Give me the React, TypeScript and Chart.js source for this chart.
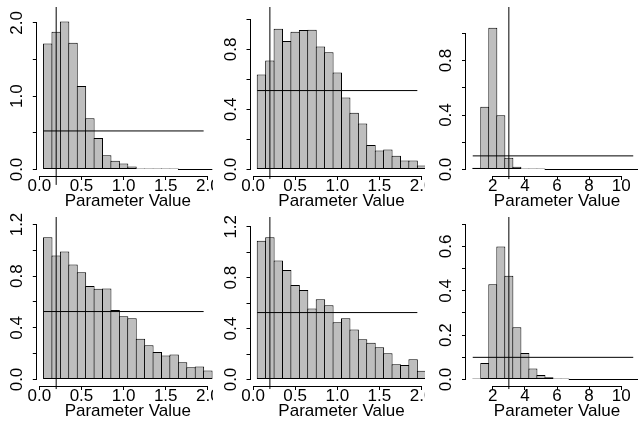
import React, { useEffect, useRef } from "react";
import { Chart, registerables } from "chart.js";

Chart.register(...registerables);
Chart.defaults.font.family = "'Liberation Sans', Arial, Helvetica, sans-serif";
Chart.defaults.color = "#000";

// ---------------- data ----------------
const narrowBinCenters = [0.1, 0.2, 0.3, 0.4, 0.5, 0.6, 0.7, 0.8, 0.9, 1.0, 1.1, 1.2, 1.3, 1.4, 1.5, 1.6, 1.7, 1.8, 1.9, 2.0];
const wideBinCenters = [1.0, 1.5, 2.0, 2.5, 3.0, 3.5, 4.0, 4.5, 5.0, 5.5, 6.0, 6.5, 7.0, 7.5, 8.0, 8.5, 9.0, 9.5, 10.0, 10.5, 11.0];

const densityTopLeft = [1.72, 1.88, 2.02, 1.73, 1.14, 0.70, 0.43, 0.195, 0.118, 0.082, 0.041, 0.014, 0.01, 0.006, 0.003, 0.001, 0, 0, 0, 0];
const densityTopMid = [0.633, 0.727, 0.938, 0.856, 0.918, 0.929, 0.931, 0.82, 0.782, 0.647, 0.48, 0.378, 0.307, 0.164, 0.127, 0.133, 0.091, 0.06, 0.06, 0.027];
const densityTopRight = [0.012, 0.46, 1.04, 0.399, 0.086, 0.02, 0.007, 0.002, 0.001, 0, 0, 0, 0, 0, 0, 0, 0, 0, 0, 0, 0];
const densityBottomLeft = [1.102, 0.96, 0.991, 0.89, 0.831, 0.723, 0.702, 0.705, 0.539, 0.49, 0.475, 0.315, 0.266, 0.212, 0.186, 0.194, 0.134, 0.095, 0.10, 0.07];
const densityBottomMid = [1.09, 1.118, 0.935, 0.861, 0.743, 0.704, 0.558, 0.631, 0.584, 0.45, 0.482, 0.393, 0.317, 0.288, 0.254, 0.207, 0.12, 0.113, 0.16, 0.068];
const densityBottomRight = [0.002, 0.074, 0.43, 0.60, 0.468, 0.236, 0.119, 0.05, 0.02, 0.01, 0.003, 0.001, 0, 0, 0, 0, 0, 0, 0, 0, 0];

const narrowXLim = [0.05, 2.05];
const wideXLim = [0.75, 11.25];
const narrowXTicks = [0, 0.5, 1, 1.5, 2];
const wideXTicks = [2, 4, 6, 8, 10];

const yTicksTopLeft = [0, 0.5, 1, 1.5, 2];
const yLabelsTopLeft = [0, 1, 2];
const yTicksTop = [0, 0.2, 0.4, 0.6, 0.8, 1.0];
const yLabelsTop = [0, 0.4, 0.8];
const yTicksBottom = [0, 0.2, 0.4, 0.6, 0.8, 1.0, 1.2];
const yLabelsBottom = [0, 0.4, 0.8, 1.2];
const yTicksBottomRight = [0, 0.1, 0.2, 0.3, 0.4, 0.5, 0.6, 0.7];
const yLabelsBottomRight = [0, 0.2, 0.4, 0.6];

const yLimTops = [2.217, 1.083, 1.193, 1.258, 1.277, 0.733];
const trueValues = [0.2, 0.2, 3, 0.2, 0.2, 3];
const trueLineLows = [-0.21, -0.063, -0.07, -0.074, -0.075, -0.043];
const priorLows = [0.05, 0.05, 0.75, 0.05, 0.05, 0.75];
const priorHighs = [1.95, 1.95, 10.75, 1.95, 1.95, 10.75];
const priorDensities = [0.526, 0.526, 0.1, 0.526, 0.526, 0.1];

const panelDensities = [densityTopLeft, densityTopMid, densityTopRight, densityBottomLeft, densityBottomMid, densityBottomRight];
const panelYTicks = [yTicksTopLeft, yTicksTop, yTicksTop, yTicksBottom, yTicksBottom, yTicksBottomRight];
const panelYLabels = [yLabelsTopLeft, yLabelsTop, yLabelsTop, yLabelsBottom, yLabelsBottom, yLabelsBottomRight];

// ---------------- layout ----------------
const COLS = [
  { left: 0, width: 213, plotLeft: 36.8 },
  { left: 213, width: 212, plotLeft: 37.5 },
  { left: 425, width: 213, plotLeft: 41 },
];
const ROWS = [
  { top: 0, height: 210 },
  { top: 210, height: 211 },
];
const CANVAS_W = 228;
const PLOT_W = 182;
const PLOT_TOP = 0.5;
const PLOT_BOTTOM = 176;
const X_AXIS_H = 34;
const Y_AXIS_W = 30;
const FONT = { size: 17, lineHeight: 1 };

const rAxesPlugin = {
  id: "rAxes",
  afterDraw(chart: any) {
    const { ctx, chartArea } = chart;
    const xs = chart.scales.x;
    const ys = chart.scales.y;
    const xt = xs.ticks;
    const yt = ys.ticks;
    ctx.save();
    ctx.strokeStyle = "#000";
    ctx.lineWidth = 1;
    const al = (p: number) => Math.round(p - 0.5) + 0.5;
    const yb = Math.round(chartArea.bottom) + 0.5;
    const xa = al(xs.getPixelForValue(xt[0].value));
    const xb = al(xs.getPixelForValue(xt[xt.length - 1].value));
    ctx.beginPath();
    ctx.moveTo(xa - 0.5, yb);
    ctx.lineTo(xb + 0.5, yb);
    ctx.stroke();
    const xl = Math.round(chartArea.left) - 0.5;
    const ya = al(ys.getPixelForValue(yt[0].value));
    const yc = al(ys.getPixelForValue(yt[yt.length - 1].value));
    ctx.beginPath();
    ctx.moveTo(xl, ya + 0.5);
    ctx.lineTo(xl, yc - 0.5);
    ctx.stroke();
    ctx.restore();
  },
};

const zeroPadding = (s: any) => {
  s.paddingLeft = 0;
  s.paddingRight = 0;
  s.paddingTop = 0;
  s.paddingBottom = 0;
};

function buildConfig(i: number): any {
  const row = Math.floor(i / 3);
  const col = i % 3;
  const c = COLS[col];
  const r = ROWS[row];
  const wide = col === 2;
  const centers = wide ? wideBinCenters : narrowBinCenters;
  const xlim = wide ? wideXLim : narrowXLim;
  const xTicks = wide ? wideXTicks : narrowXTicks;
  const xr = xlim[1] - xlim[0];
  const xMin = xlim[0] - 0.04 * xr;
  const xMax = xlim[1] + 0.04 * xr;
  const binPx = ((centers[1] - centers[0]) * PLOT_W) / (xMax - xMin);
  const Y = yLimTops[i];
  const dens = panelDensities[i];
  const yTicks = panelYTicks[i];
  const yLabels = panelYLabels[i];

  return {
    type: "bar",
    data: {
      datasets: [
        {
          type: "line",
          data: [
            { x: trueValues[i], y: trueLineLows[i] },
            { x: trueValues[i], y: Y },
          ],
          borderColor: "#000",
          borderWidth: 1,
          pointRadius: 0,
          clip: false,
          order: 0,
        },
        {
          type: "line",
          data: [
            { x: priorLows[i], y: priorDensities[i] },
            { x: priorHighs[i], y: priorDensities[i] },
          ],
          borderColor: "#000",
          borderWidth: 1,
          pointRadius: 0,
          order: 1,
        },
        {
          type: "bar",
          data: centers.map((x, k) => ({ x, y: dens[k] })),
          backgroundColor: "#bebebe",
          borderColor: "#000",
          borderWidth: 1,
          borderSkipped: false,
          barPercentage: 1 + 1 / binPx,
          categoryPercentage: 1,
          minBarLength: 1,
          order: 2,
        },
      ],
    },
    options: {
      animation: false,
      responsive: false,
      devicePixelRatio: 1,
      events: [],
      layout: {
        autoPadding: false,
        padding: {
          left: c.plotLeft - Y_AXIS_W,
          right: CANVAS_W - (c.plotLeft + PLOT_W),
          top: PLOT_TOP,
          bottom: r.height - PLOT_BOTTOM - X_AXIS_H,
        },
      },
      plugins: { legend: { display: false }, tooltip: { enabled: false }, title: { display: false } },
      scales: {
        x: {
          type: "linear",
          position: "bottom",
          min: xMin,
          max: xMax,
          offset: false,
          bounds: "data",
          grid: { offset: false, drawOnChartArea: false, drawTicks: true, tickLength: 4, color: "#000", lineWidth: 1 },
          border: { display: false },
          ticks: {
            autoSkip: false,
            maxRotation: 0,
            minRotation: 0,
            padding: -2.5,
            color: "#000",
            font: FONT,
            callback: (v: any) => (wide ? String(v) : Number(v).toFixed(1)),
          },
          afterBuildTicks: (s: any) => {
            s.ticks = xTicks.map((v) => ({ value: v }));
          },
          afterFit: (s: any) => {
            s.height = X_AXIS_H;
            zeroPadding(s);
          },
          title: { display: true, text: "Parameter Value", color: "#000", font: FONT, padding: 0 },
        },
        y: {
          type: "linear",
          position: "left",
          min: -0.04 * Y,
          max: 1.04 * Y,
          beginAtZero: false,
          bounds: "data",
          grid: { drawOnChartArea: false, drawTicks: true, tickLength: 4, color: "#000", lineWidth: 1 },
          border: { display: false },
          ticks: {
            autoSkip: false,
            minRotation: 90,
            maxRotation: 90,
            crossAlign: "center",
            padding: 3.8,
            color: "#000",
            font: FONT,
            callback: (v: any) =>
              yLabels.some((l) => Math.abs(l - Number(v)) < 1e-9) ? Number(v).toFixed(1) : "",
          },
          afterBuildTicks: (s: any) => {
            s.ticks = yTicks.map((v) => ({ value: v }));
          },
          afterFit: (s: any) => {
            s.width = Y_AXIS_W;
            zeroPadding(s);
          },
        },
      },
    },
    plugins: [rAxesPlugin],
  };
}

function Panel({ index }: { index: number }) {
  const ref = useRef<HTMLCanvasElement>(null);
  const c = COLS[index % 3];
  const r = ROWS[Math.floor(index / 3)];
  useEffect(() => {
    if (!ref.current) return;
    const chart = new Chart(ref.current, buildConfig(index));
    return () => chart.destroy();
  }, [index]);
  return (
    <div style={{ position: "absolute", left: c.left, top: r.top, width: c.width, height: r.height, overflow: "hidden" }}>
      <canvas
        ref={ref}
        width={CANVAS_W}
        height={r.height}
        style={{ position: "absolute", left: 0, top: 0, width: CANVAS_W, height: r.height, display: "block" }}
      />
    </div>
  );
}

export default function App() {
  return (
    <div style={{ position: "fixed", left: 0, top: 0, width: 638, height: 421, background: "#fff", overflow: "hidden" }}>
      {[0, 1, 2, 3, 4, 5].map((i) => (
        <Panel key={i} index={i} />
      ))}
    </div>
  );
}
